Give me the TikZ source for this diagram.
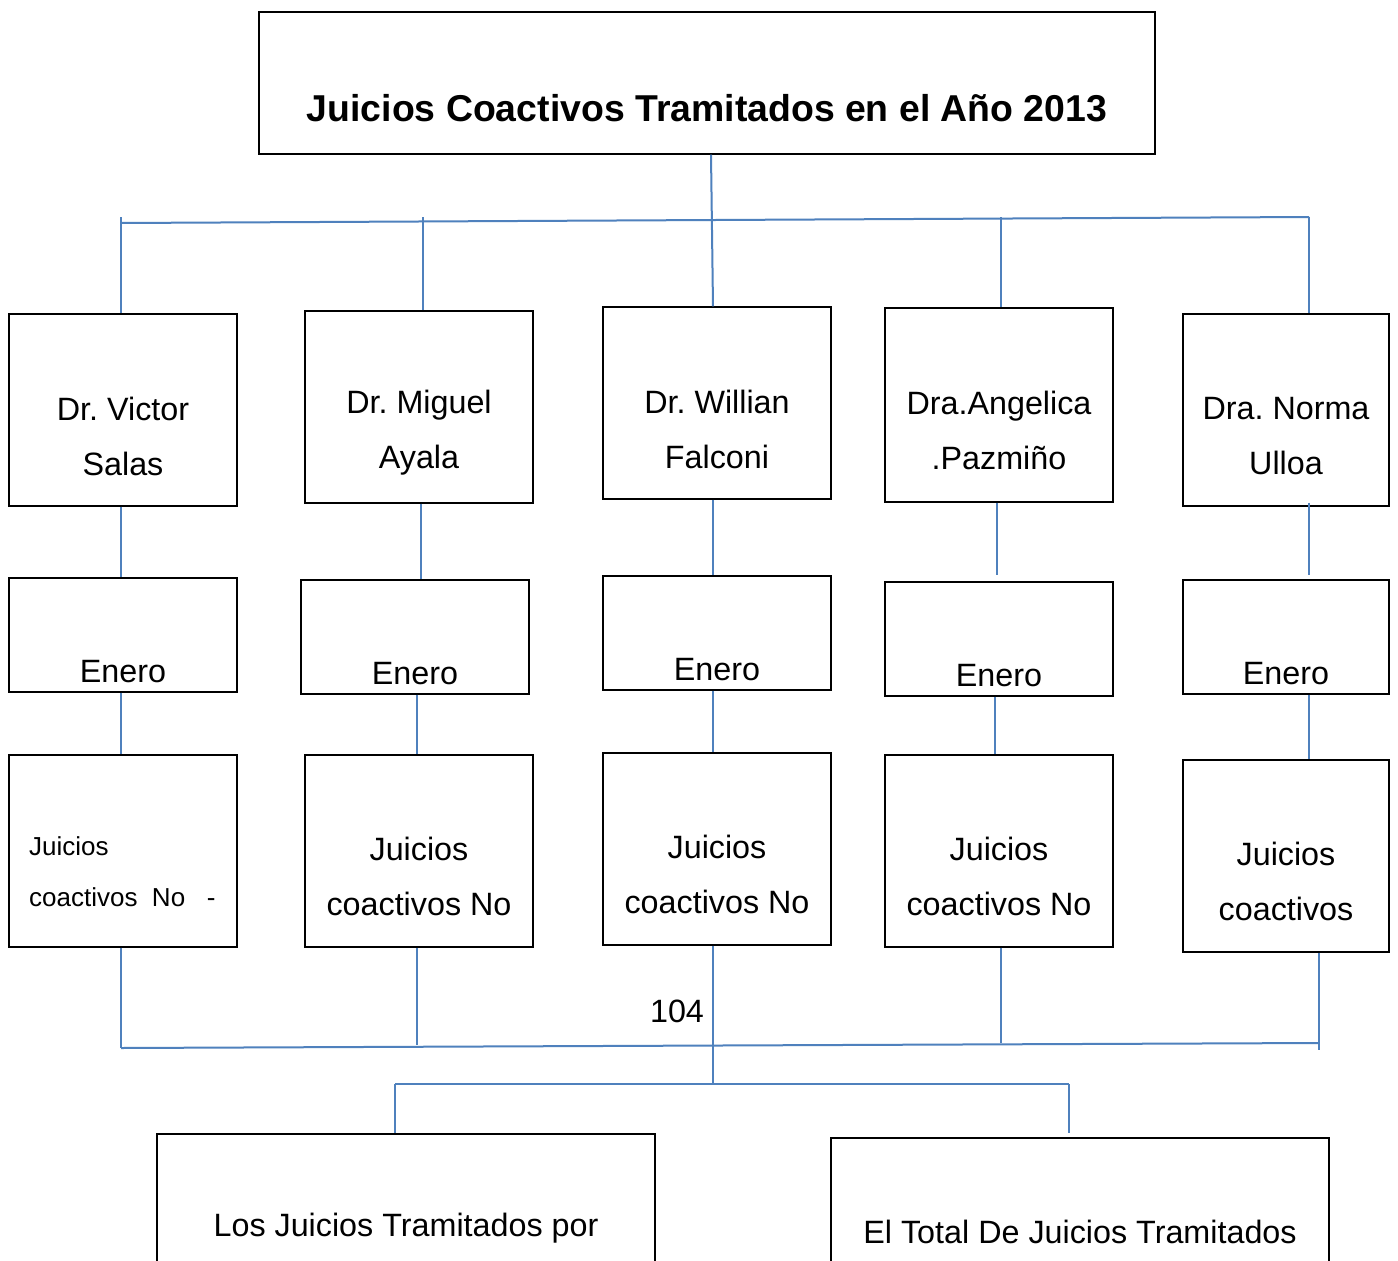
\documentclass[tikz,border=0pt]{standalone}
\usepackage{fontspec}
\setmainfont{Liberation Sans}
\frenchspacing
\definecolor{lineblue}{HTML}{4F81BD}
\begin{document}
\begin{tikzpicture}[x=1pt,y=-1pt,
  box/.style={draw=black, line width=1.2pt, inner sep=0pt},
  wbox/.style={box, minimum width=228pt, minimum height=192pt},
  nbox/.style={box, minimum width=206pt, minimum height=192pt},
  wsbox/.style={box, minimum width=228pt, minimum height=114pt},
  nsbox/.style={box, minimum width=206pt, minimum height=114pt},
  conn/.style={draw=lineblue, line width=2pt},
  txt/.style={font=\fontsize{32.3}{55}\selectfont, align=center, inner sep=0pt},
  smalltxt/.style={font=\fontsize{26}{51}\selectfont, align=left, inner sep=0pt}]
\clip (0,0) rectangle (1398,1261);
\fill[white] (0,0) rectangle (1398,1261);

% title
\node[box, minimum width=896pt, minimum height=142pt] (title) at (707,83) {};
\node[inner sep=0pt, font=\fontsize{37.4}{40}\selectfont\bfseries] (ttitle) at (707,108) {Juicios Coactivos Tramitados en el Año 2013};

% row 1
\node[wbox] (b1) at (123,410) {};
\node[wbox] (b2) at (419,407) {};
\node[wbox] (b3) at (717,403) {};
\node[box, minimum width=228pt, minimum height=194pt] (b4) at (999,405) {};
\node[nbox] (b5) at (1286,410) {};
\node[txt] (tb1) at (123,436) {Dr. Victor\\Salas};
\node[txt] (tb2) at (419,433) {Dr. Miguel\\Ayala};
\node[txt] (tb3) at (717,429) {Dr. Willian\\Falconi};
\node[txt] (tb4) at (999,430) {Dra.Angelica\\.Pazmiño};
\node[txt] (tb5) at (1286,436) {Dra. Norma\\Ulloa};

% row 2
\node[wsbox] (e1) at (123,635) {};
\node[wsbox] (e2) at (415,637) {};
\node[wsbox] (e3) at (717,633) {};
\node[wsbox] (e4) at (999,639) {};
\node[nsbox] (e5) at (1286,637) {};
\node[txt] (te1) at (123,672) {Enero};
\node[txt] (te2) at (415,674) {Enero};
\node[txt] (te3) at (717,670) {Enero};
\node[txt] (te4) at (999,676) {Enero};
\node[txt] (te5) at (1286,674) {Enero};

% row 3
\node[wbox] (j1) at (123,851) {};
\node[wbox] (j2) at (419,851) {};
\node[wbox] (j3) at (717,849) {};
\node[wbox] (j4) at (999,851) {};
\node[nbox] (j5) at (1286,856) {};
\node[smalltxt, anchor=west] (tj1) at (29,872) {Juicios\\coactivos\ \ No\ \ \ -};
\node[txt] (tj2) at (419,876) {Juicios\\coactivos No};
\node[txt] (tj3) at (717,874) {Juicios\\coactivos No};
\node[txt] (tj4) at (999,876) {Juicios\\coactivos No};
\node[txt] (tj5) at (1286,881) {Juicios\\coactivos};

% bottom boxes
\node[box, minimum width=498pt, minimum height=200pt] (bl) at (406,1234) {};
\node[box, minimum width=498pt, minimum height=200pt] (br) at (1080,1238) {};
\node[txt] (tbl) at (406,1228) {Los Juicios Tramitados por};
\node[txt] (tbr) at (1080,1232) {El Total De Juicios Tramitados};

\node[txt] (n104) at (677,1011) {104};

% top bus
\coordinate (tbusl) at (121,223);
\coordinate (tbusr) at (1309,217);
\coordinate (b1top) at ([xshift=-2pt]b1.north);
\coordinate (b2top) at ([xshift=4pt]b2.north);
\coordinate (b4top) at ([xshift=2pt]b4.north);
\coordinate (b5top) at ([xshift=23pt]b5.north);
\draw[conn] (tbusl) -- (tbusr);
\draw[conn] ([xshift=4pt]title.south) -- ([xshift=-4pt]b3.north);
\draw[conn] (b1top |- tbusr) -- (b1top);
\draw[conn] (b2top |- tbusr) -- (b2top);
\draw[conn] (b4top |- tbusr) -- (b4top);
\draw[conn] (b5top |- tbusr) -- (b5top);

% row 1 -> row 2
\draw[conn] ([xshift=-2pt]b1.south) -- ([xshift=-2pt]e1.north);
\draw[conn] ([xshift=2pt]b2.south) -- ([xshift=6pt]e2.north);
\draw[conn] ([xshift=-4pt]b3.south) -- ([xshift=-4pt]e3.north);
\draw[conn] ([xshift=-2pt]b4.south) -- ([xshift=-2pt,yshift=6pt]e4.north);
\draw[conn] ([xshift=23pt,yshift=4pt]b5.south) -- ([xshift=23pt,yshift=4pt]e5.north);

% row 2 -> row 3
\draw[conn] ([xshift=-2pt]e1.south) -- ([xshift=-2pt]j1.north);
\draw[conn] ([xshift=2pt]e2.south) -- ([xshift=-2pt]j2.north);
\draw[conn] ([xshift=-4pt]e3.south) -- ([xshift=-4pt]j3.north);
\draw[conn] ([xshift=-4pt]e4.south) -- ([xshift=-4pt]j4.north);
\draw[conn] ([xshift=23pt]e5.south) -- ([xshift=23pt]j5.north);

% bottom bus
\coordinate (bbusl) at (121,1048);
\coordinate (bbusr) at (1319,1043);
\coordinate (j1bot) at ([xshift=-2pt]j1.south);
\coordinate (j2bot) at ([xshift=-2pt]j2.south);
\coordinate (j3bot) at ([xshift=-4pt]j3.south);
\coordinate (j4bot) at ([xshift=2pt]j4.south);
\coordinate (j5bot) at ([xshift=33pt]j5.south);
\draw[conn] (bbusl) -- (bbusr);
\draw[conn] (j1bot) -- (j1bot |- bbusl);
\draw[conn] (j2bot) -- (121,1045 -| j2bot);
\draw[conn] (j4bot) -- (j4bot |- bbusr);
\draw[conn] (j5bot) -- ([yshift=-7pt]j5bot |- bbusr);

% lower bus
\coordinate (lbus) at (713,1084);
\coordinate (blTop) at ([xshift=-11pt]bl.north);
\coordinate (brTop) at ([xshift=-11pt]br.north);
\draw[conn] (j3bot) -- (lbus);
\draw[conn] (blTop |- lbus) -- (brTop |- lbus);
\draw[conn] (blTop |- lbus) -- (blTop);
\draw[conn] (brTop |- lbus) -- ([yshift=4pt]brTop);
\end{tikzpicture}
\end{document}
